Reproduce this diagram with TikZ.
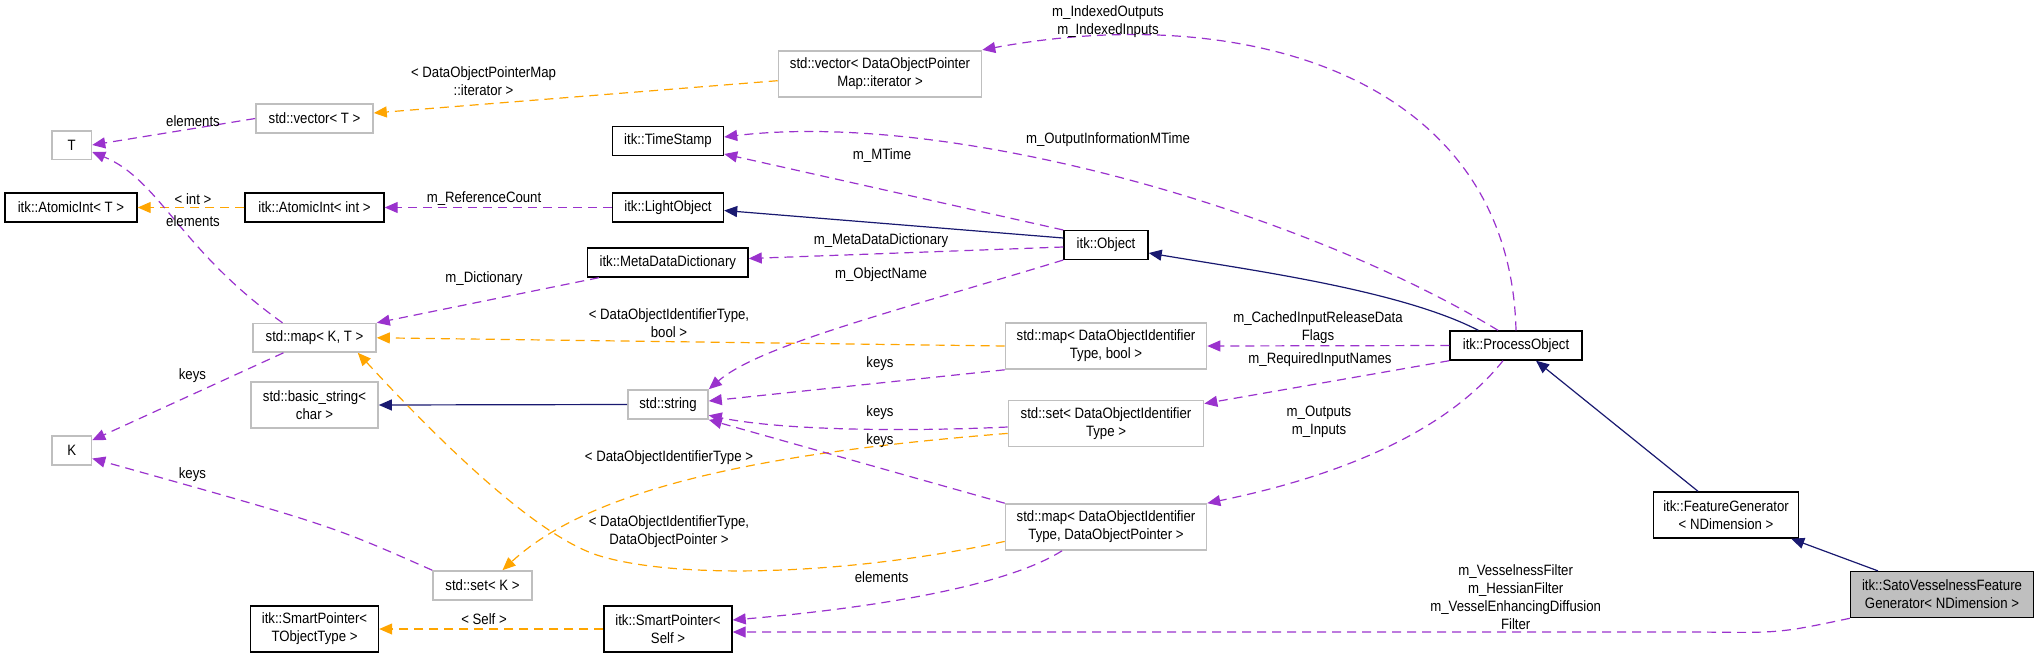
\documentclass[tikz,border=0pt]{standalone}
\usepackage{fontspec}
\setmainfont{Liberation Sans}[FakeStretch=0.88]
\usepackage{tikz}
\usetikzlibrary{arrows.meta}
\usepackage{xcolor}
\definecolor{edgepurple}{HTML}{9A32CD}
\definecolor{edgeorange}{HTML}{FFA500}
\definecolor{edgenavy}{HTML}{191970}
\definecolor{boxgray}{HTML}{BFBFBF}

\begin{document}
\begin{tikzpicture}[x=0.5pt,y=-0.5pt,
  every node/.style={font=\fontsize{7.5}{9}\selectfont, align=center, inner sep=0pt},
  cls/.style={draw=black, line width=0.7pt, fill=white},
  ext/.style={draw=boxgray, line width=0.8pt, fill=white},
  member/.style={draw=edgepurple, line width=0.6pt, dash pattern=on 4.5pt off 3pt, -{Triangle[length=6.5pt,width=5.5pt]}},
  templ/.style={draw=edgeorange, line width=0.6pt, dash pattern=on 4.5pt off 3pt, -{Triangle[length=6.5pt,width=5.5pt]}},
  inherit/.style={draw=edgenavy, line width=0.6pt, -{Triangle[length=6.5pt,width=5.5pt]}}]
\useasboundingbox (0,0) rectangle (2040,653);
% Classes
\node[ext, minimum width=19.75pt, minimum height=14.3pt] (T) at (71.7,145) {T};
\node[cls, minimum width=66pt, minimum height=14.5pt] (aintT) at (71,207.5) {itk::AtomicInt< T >};
\node[ext, minimum width=58.5pt, minimum height=14.5pt] (vecT) at (314.5,118.5) {std::vector< T >};
\node[cls, minimum width=69.5pt, minimum height=14.5pt] (aintInt) at (314.5,207.5) {itk::AtomicInt< int >};
\node[ext, minimum width=101.5pt, minimum height=23pt] (vecDOP) at (880,73.7) {std::vector< DataObjectPointer\\Map::iterator >};
\node[cls, minimum width=55.5pt, minimum height=14.3pt] (ts) at (668,141) {itk::TimeStamp};
\node[cls, minimum width=55.5pt, minimum height=14.5pt] (lo) at (668,207.5) {itk::LightObject};
\node[cls, minimum width=80.25pt, minimum height=14.5pt] (mdd) at (667.8,262.5) {itk::MetaDataDictionary};
\node[cls, minimum width=42pt, minimum height=14.3pt] (obj) at (1106,245) {itk::Object};
\node[ext, minimum width=61.5pt, minimum height=14.2pt] (mapKT) at (314.5,337.8) {std::map< K, T >};
\node[ext, minimum width=63.5pt, minimum height=23pt] (bstr) at (314.5,405) {std::basic\_string<\\char >};
\node[ext, minimum width=19.75pt, minimum height=14.5pt] (K) at (71.7,450.5) {K};
\node[ext, minimum width=49.5pt, minimum height=14.5pt] (setK) at (482.5,585.5) {std::set< K >};
\node[cls, minimum width=64pt, minimum height=23pt] (spt) at (314.5,629) {itk::SmartPointer<\\TObjectType >};
\node[ext, minimum width=40pt, minimum height=14.5pt] (str) at (668,404.5) {std::string};
\node[ext, minimum width=100.5pt, minimum height=23pt] (mapBool) at (1106,346) {std::map< DataObjectIdentifier\\Type, bool >};
\node[ext, minimum width=97.5pt, minimum height=23pt] (setDOI) at (1106,423.4) {std::set< DataObjectIdentifier\\Type >};
\node[ext, minimum width=100.5pt, minimum height=23pt] (mapDOP) at (1106,527) {std::map< DataObjectIdentifier\\Type, DataObjectPointer >};
\node[cls, minimum width=64pt, minimum height=23pt] (spSelf) at (668,629) {itk::SmartPointer<\\Self >};
\node[cls, minimum width=66pt, minimum height=14.5pt] (po) at (1516,345.5) {itk::ProcessObject};
\node[cls, minimum width=72.5pt, minimum height=23pt] (fg) at (1726,515) {itk::FeatureGenerator\\< NDimension >};
\node[cls, fill=boxgray, minimum width=91.5pt, minimum height=23pt] (sato) at (1942,594.6) {itk::SatoVesselnessFeature\\Generator< NDimension >};
% Inheritance
\draw[inherit] ([yshift=3.5pt]obj.west) -- ([yshift=-1.5pt]lo.east);
\draw[inherit] ([xshift=14.5pt]po.north west) .. controls (1400,290) and (1250,270) .. ([yshift=-4pt]obj.east);
\draw[inherit] (str.west) -- (bstr.east);
\draw[inherit] ([xshift=-14pt]fg.north) -- ([xshift=10pt]po.south);
\draw[inherit] ([xshift=-32pt]sato.north) -- ([xshift=-4pt]fg.south east);
% Template instances
\draw[templ] ([yshift=-3.5pt]vecDOP.west) -- ([yshift=2.75pt]vecT.east);
\draw[templ] (aintInt.west) -- (aintT.east);
\draw[templ] (mapBool.west) -- (mapKT.east);
\draw[templ] ([yshift=-7.2pt]mapDOP.west) .. controls (850,575) and (680,580) .. (600,556)
  .. controls (530,535) and (420,420) .. ([xshift=-9.5pt]mapKT.south east);
\draw[templ] ([yshift=-5pt]setDOI.west) .. controls (800,450) and (600,480) .. ([xshift=10pt]setK.north);
\draw[templ] (spSelf.west) -- (spt.east);
% Members
\draw[member] (vecT.west) -- (T.east);
\draw[member] ([xshift=-16pt]mapKT.north) .. controls (180,250) and (160,180) .. ([yshift=-3.5pt]T.east);
\draw[member] (po.north) .. controls (1510,80) and (1250,0) .. (vecDOP.north east);
\draw[member] ([xshift=-9pt]po.north) .. controls (1300,210) and (950,110) .. ([yshift=2pt]ts.east);
\draw[member] (obj.north west) -- ([yshift=1pt]ts.south east);
\draw[member] (lo.west) -- (aintInt.east);
\draw[member] ([xshift=6pt]mdd.south west) -- (mapKT.north east);
\draw[member] ([yshift=-1pt]obj.west) -- ([yshift=2pt]mdd.east);
\draw[member] (obj.south west) .. controls (900,310) and (760,345) .. (str.north east);
\draw[member] ([xshift=-15.5pt]mapKT.south) -- ([yshift=-2.5pt]K.north east);
\draw[member] (setK.north west) .. controls (330,525) .. ([yshift=-4pt]K.east);
\draw[member] (mapBool.south west) -- ([yshift=1.75pt]str.east);
\draw[member] ([yshift=-1.8pt]setDOI.west) .. controls (900,432) and (780,430) .. ([yshift=2.25pt]str.south east);
\draw[member] (mapDOP.north west) -- (str.south east);
\draw[member] (po.west) -- (mapBool.east);
\draw[member] (po.south west) -- ([yshift=-2pt]setDOI.north east);
\draw[member] ([xshift=-6.5pt]po.south) .. controls (1440,440) and (1320,480) .. (mapDOP.north east);
\draw[member] ([xshift=-22pt]mapDOP.south) .. controls (1000,590) and (850,610) .. ([yshift=4.5pt]spSelf.east);
\draw[member] (sato.south west) .. controls (1780,633) .. (1700,632) -- ([yshift=-1.5pt]spSelf.east);
% Edge labels
\node (lElemT) at (193,120.7) {elements};
\node (lIter) at (483.5,81.5) {< DataObjectPointerMap\\::iterator >};
\node (lInt) at (193,199) {< int >};
\node (lElemMap) at (193,220.7) {elements};
\node (lRef) at (484,199) {m\_ReferenceCount};
\node (lDict) at (484,279) {m\_Dictionary};
\node (lIdx) at (1108,21.7) {m\_IndexedOutputs\\m\_IndexedInputs};
\node (lOutMT) at (1108,139.3) {m\_OutputInformationMTime};
\node (lMTime) at (882,155.3) {m\_MTime};
\node (lMDD) at (881,240.7) {m\_MetaDataDictionary};
\node (lObjName) at (881,274.7) {m\_ObjectName};
\node (lDOIbool) at (669,323.5) {< DataObjectIdentifierType,\\bool >};
\node (lCached) at (1318,327.5) {m\_CachedInputReleaseData\\Flags};
\node (lKeys1) at (880,364) {keys};
\node (lReq) at (1320,359.6) {m\_RequiredInputNames};
\node (lKeys2) at (880,413) {keys};
\node (lKeys3) at (880,441) {keys};
\node (lDOIset) at (669,458) {< DataObjectIdentifierType >};
\node (lOutIn) at (1319,421.5) {m\_Outputs\\m\_Inputs};
\node (lDOIDOP) at (669,532) {< DataObjectIdentifierType,\\DataObjectPointer >};
\node (lKeysK1) at (192.4,375.4) {keys};
\node (lKeysK2) at (192.4,474.4) {keys};
\node (lSelf) at (484,619) {< Self >};
\node (lElemSP) at (881.6,577.4) {elements};
\node (lSato) at (1515.7,596.8) {m\_VesselnessFilter\\m\_HessianFilter\\m\_VesselEnhancingDiffusion\\Filter};
\end{tikzpicture}
\end{document}
